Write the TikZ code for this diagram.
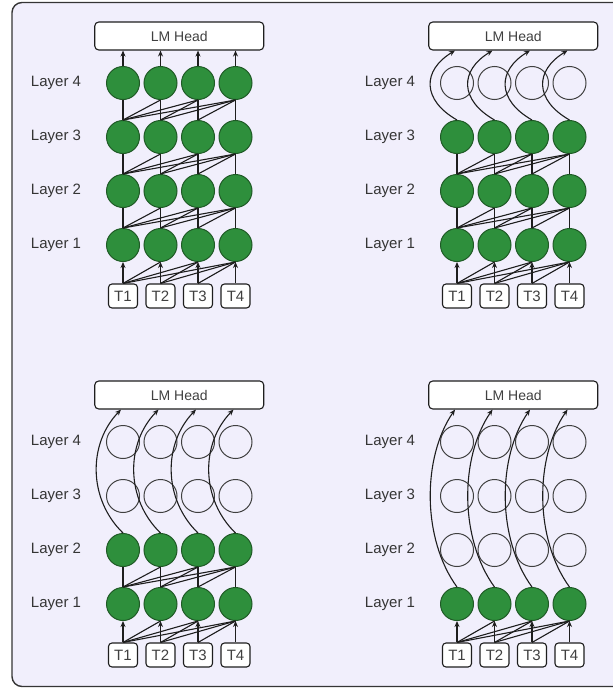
\documentclass[tikz,border=0pt]{standalone}
\usepackage{fontspec}
\setmainfont{Liberation Sans}
\usetikzlibrary{arrows.meta,calc}
\definecolor{bg}{HTML}{F1EFFC}
\definecolor{gr}{HTML}{2E8F3C}
\definecolor{grb}{HTML}{1F5A26}
\definecolor{ln}{HTML}{1E1E1E}
\tikzset{
 green node/.style={circle,draw=grb,line width=1pt,fill=gr,minimum size=33pt,inner sep=0pt},
 hollow node/.style={circle,draw=ln!85,line width=1pt,minimum size=33pt,inner sep=0pt},
 tokbox/.style={draw=ln,rounded corners=3.5pt,line width=1.1pt,fill=white,minimum width=29pt,minimum height=24pt,inner sep=0pt,font=\fontsize{15}{15}\selectfont,text=ln!85},
 headbox/.style={draw=ln,rounded corners=4pt,line width=1.1pt,fill=white,minimum width=169pt,minimum height=28pt,inner sep=0pt,font=\fontsize{14}{14}\selectfont,text=ln!85},
 lbl/.style={font=\fontsize{15}{15}\selectfont,text=ln!90},
 edge/.style={draw=ln,line width=1.1pt},
 arr/.style={edge,-{Stealth[length=6pt,width=5pt]}},
 frame/.style={draw=ln!90,line width=1.4pt,fill=bg,rounded corners=10pt},
}
% #1 id, #2 dx, #3 dy, #4 number of green layers, #5 curve control height
\newcommand\drawpanel[5]{%
\begin{scope}[shift={(#2,#3)}]
 \node[headbox] (#1h) at (179.25,36) {LM Head};
 \foreach \l in {1,...,4} {
   \node[lbl] (#1lab\l) at (56,{245-54*(\l-1)}) {Layer \l};
   \foreach \i in {1,...,4} {
     \ifnum\l>#4
       \node[hollow node] (#1c\l\i) at ({123+37.5*(\i-1)},{245-54*(\l-1)}) {};
     \else
       \node[green node] (#1c\l\i) at ({123+37.5*(\i-1)},{245-54*(\l-1)}) {};
     \fi
   }
 }
 \foreach \i in {1,...,4} {
   \node[tokbox] (#1t\i) at ({123+37.5*(\i-1)},296) {T\i};
   \draw[arr] (#1t\i.north) -- (#1c1\i.south);
 }
 \foreach \i in {1,...,3} {
   \pgfmathtruncatemacro\ii{\i+1}
   \foreach \j in {\ii,...,4} {
     \draw[edge] (#1t\i.north) -- (#1c1\j.south);
   }
 }
 \ifnum#4>1
 \pgfmathtruncatemacro\kk{#4-1}
 \foreach \l in {1,...,\kk} {
   \pgfmathtruncatemacro\m{\l+1}
   \foreach \i in {1,...,4} {
     \draw[edge] (#1c\l\i.north) -- (#1c\m\i.south);
   }
   \foreach \i in {1,...,3} {
     \pgfmathtruncatemacro\ii{\i+1}
     \foreach \j in {\ii,...,4} {
       \draw[edge] (#1c\l\i.north) -- (#1c\m\j.south);
     }
   }
 }
 \fi
 \ifnum#4=4
   \foreach \i in {1,...,4} {
     \draw[arr] (#1c4\i.north) -- (#1c4\i.north |- #1h.south);
   }
 \else
   \foreach \i in {1,...,4} {
     \draw[arr] (#1c#4\i.north) .. controls +(-35,-#5) and +(-33,#5) .. ($(#1c#4\i.north |- #1h.south)+(-2,0)$);
   }
 \fi
\end{scope}}
\begin{document}
\begin{tikzpicture}[x=1pt,y=-1pt]
 \useasboundingbox (0,0) rectangle (613,688);
 \draw[frame] (12,2.5) rectangle (660,686.5);
 \drawpanel{A}{0}{0}{4}{0}
 \drawpanel{B}{334}{0}{3}{20}
 \drawpanel{C}{0}{359}{2}{34}
 \drawpanel{D}{334}{359}{1}{48}
\end{tikzpicture}
\end{document}
